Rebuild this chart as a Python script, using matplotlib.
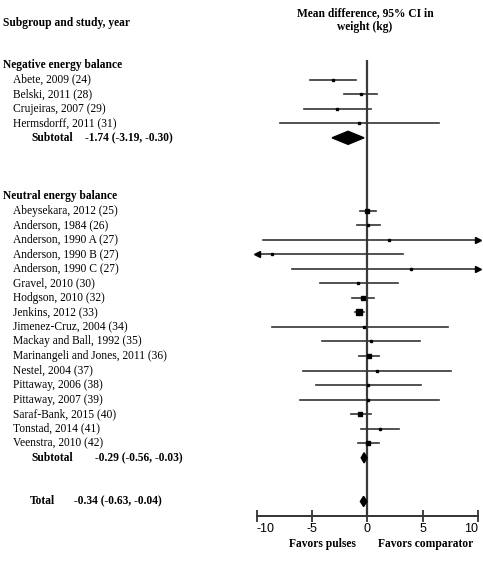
import matplotlib
matplotlib.use('Agg')
import matplotlib.pyplot as plt
from matplotlib.patches import Polygon
from matplotlib.transforms import blended_transform_factory

# negative energy balance studies
neg_names = ['Abete, 2009 (24)', 'Belski, 2011 (28)', 'Crujeiras, 2007 (29)',
             'Hermsdorff, 2011 (31)']
neg_md = [-3.12, -0.6, -2.7, -0.72]
neg_lo = [-5.17, -2.1, -5.77, -7.87]
neg_hi = [-1.03, 0.9, 0.36, 6.45]
neg_ms = [1.8, 1.8, 1.8, 1.6]
neg_sub = (-1.74, -3.19, -0.30)

# neutral energy balance studies
neu_names = ['Abeysekara, 2012 (25)', 'Anderson, 1984 (26)', 'Anderson, 1990 A (27)',
             'Anderson, 1990 B (27)', 'Anderson, 1990 C (27)', 'Gravel, 2010 (30)',
             'Hodgson, 2010 (32)', 'Jenkins, 2012 (33)', 'Jimenez-Cruz, 2004 (34)',
             'Mackay and Ball, 1992 (35)', 'Marinangeli and Jones, 2011 (36)',
             'Nestel, 2004 (37)', 'Pittaway, 2006 (38)', 'Pittaway, 2007 (39)',
             'Saraf-Bank, 2015 (40)', 'Tonstad, 2014 (41)', 'Veenstra, 2010 (42)']
neu_md = [0.0, 0.03, 1.95, -8.65, 3.9, -0.81, -0.39, -0.75, -0.27, 0.33, 0.18,
          0.84, 0.09, 0.09, -0.63, 1.11, 0.09]
neu_lo = [-0.66, -0.96, -9.4, -20.5, -6.82, -4.3, -1.35, -1.14, -8.62, -4.12, -0.72,
          -5.86, -4.6, -6.1, -1.5, -0.58, -0.84]
neu_hi = [0.75, 1.1, 13.3, 3.24, 14.6, 2.76, 0.63, -0.3, 7.26, 4.8, 1.08,
          7.57, 4.86, 6.45, 0.36, 2.85, 1.05]
neu_ms = [3.2, 2.0, 1.6, 1.6, 1.6, 1.8, 2.4, 4.0, 1.6, 1.6, 2.4,
          1.8, 1.6, 1.6, 2.4, 1.8, 2.4]
neu_sub = (-0.29, -0.56, -0.03)
total = (-0.34, -0.63, -0.04)

xticks = [-10, -5, 0, 5, 10]

W, H = 483, 561
fig = plt.figure(figsize=(W / 100, H / 100), dpi=100)
plt.rcParams['font.family'] = ['Liberation Serif']

# axes box in pixels: x -10..10 -> 256.7..478, rows top 60 .. axis 516
ax = fig.add_axes([256.7 / W, (H - 516) / H, (478 - 256.7) / W, (516 - 60) / H])
ax.set_xlim(-10, 10)
ax.set_ylim(31.0, -0.35)
for s in ('top', 'right', 'left'):
    ax.spines[s].set_visible(False)
ax.spines['bottom'].set_color('#333333')
ax.spines['bottom'].set_linewidth(1.4)
ax.set_yticks([])
ax.set_xticks(xticks)
ax.set_xticklabels([str(t) for t in xticks], family='Liberation Sans', fontsize=9)
ax.tick_params(axis='x', direction='inout', length=8, width=1.3, color='#333333', pad=1)
labs = ax.get_xticklabels()
labs[0].set_ha('left')
labs[-1].set_ha('right')
ax.axvline(0, color='#3a3a3a', lw=1.6, zorder=1)

tr = blended_transform_factory(fig.transFigure, ax.transData)
fs = 8.3


def px(x):
    return x / W


def study(row, name, md, lo, hi, ms):
    ax.text(px(13), row, name, transform=tr, fontsize=fs, va='center', ha='left')
    a, b = max(lo, -10), min(hi, 10)
    ax.plot([a, b], [row, row], color='#333333', lw=1.2, clip_on=False, zorder=2)
    ax.plot(md, row, 's', color='black', ms=ms, clip_on=False, zorder=3)
    if lo < -10:
        ax.plot(-10, row, marker='<', color='black', ms=4, clip_on=False)
    if hi > 10:
        ax.plot(10, row, marker='>', color='black', ms=4, clip_on=False)


def diamond(row, est, lo, hi, half):
    ax.add_patch(Polygon([(lo, row), (est, row - half), (hi, row), (est, row + half)],
                         closed=True, color='black', zorder=3))


# header texts
fig.text(px(3), 1 - 23 / H, 'Subgroup and study, year', fontsize=fs, weight='bold',
         va='center', ha='left')
fig.text(px(365), 1 - 20 / H, 'Mean difference, 95% CI in\nweight (kg)', fontsize=fs,
         weight='bold', va='center', ha='center', linespacing=1.25)

row = 0
ax.text(px(3), row, 'Negative energy balance', transform=tr, fontsize=fs,
        weight='bold', va='center')
for i, n in enumerate(neg_names):
    row += 1
    study(row, n, neg_md[i], neg_lo[i], neg_hi[i], neg_ms[i])
row += 1
ax.text(px(31), row, 'Subtotal', transform=tr, fontsize=fs, weight='bold', va='center')
ax.text(px(85), row, '%.2f (%.2f, %.2f)' % neg_sub, transform=tr, fontsize=fs,
        weight='bold', va='center')
diamond(row, *neg_sub, 0.45)

row += 4
ax.text(px(3), row, 'Neutral energy balance', transform=tr, fontsize=fs,
        weight='bold', va='center')
for i, n in enumerate(neu_names):
    row += 1
    study(row, n, neu_md[i], neu_lo[i], neu_hi[i], neu_ms[i])
row += 1
ax.text(px(31), row, 'Subtotal', transform=tr, fontsize=fs, weight='bold', va='center')
ax.text(px(95), row, '%.2f (%.2f, %.2f)' % neu_sub, transform=tr, fontsize=fs,
        weight='bold', va='center')
diamond(row, *neu_sub, 0.35)

row += 3
ax.text(px(30), row, 'Total', transform=tr, fontsize=fs, weight='bold', va='center')
ax.text(px(74), row, '%.2f (%.2f, %.2f)' % total, transform=tr, fontsize=fs,
        weight='bold', va='center')
diamond(row, *total, 0.35)

fig.text(px(322), 1 - 544 / H, 'Favors pulses', fontsize=fs, weight='bold',
         va='center', ha='center')
fig.text(px(426), 1 - 544 / H, 'Favors comparator', fontsize=fs, weight='bold',
         va='center', ha='center')

fig.savefig('out.png', dpi=100)
